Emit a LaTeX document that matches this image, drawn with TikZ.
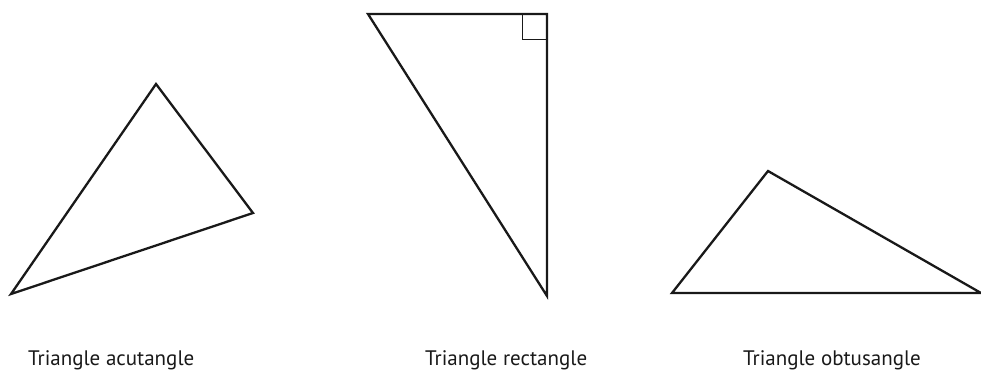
\documentclass[tikz,border=0pt]{standalone}
\usepackage{fontspec}
\setmainfont{PT Sans}
\begin{document}
\begin{tikzpicture}[x=1pt,y=-1pt,
  tri/.style={draw=black!90, line width=2.3pt, line join=miter},
  sq/.style={draw=black!90, line width=1pt},
  lab/.style={anchor=base west, inner sep=0pt, font=\fontsize{21}{24}\selectfont, text=black!90}]
\useasboundingbox (0,0) rectangle (981,370);
% acute
\coordinate (a1) at (11,294);
\coordinate (a2) at (156,84);
\coordinate (a3) at (253,213);
\draw[tri] (a1) -- (a2) -- (a3) -- cycle;
% right
\coordinate (r1) at (368,14);
\coordinate (r2) at (547,14);
\coordinate (r3) at (547,296);
\draw[tri] (r1) -- (r2) -- (r3) -- cycle;
\coordinate (s1) at (522,14);
\coordinate (s2) at (522,39);
\coordinate (s3) at (547,39);
\draw[sq] (s1) -- (s2) -- (s3);
% obtuse
\coordinate (o1) at (672,293);
\coordinate (o2) at (768,171);
\coordinate (o3) at (981,293);
\draw[tri] (o1) -- (o2) -- (o3) -- cycle;
% labels
\node[lab] (l1) at (28,365) {Triangle acutangle};
\node[lab] (l2) at (425,365) {Triangle rectangle};
\node[lab] (l3) at (743,365) {Triangle obtusangle};
\end{tikzpicture}
\end{document}
